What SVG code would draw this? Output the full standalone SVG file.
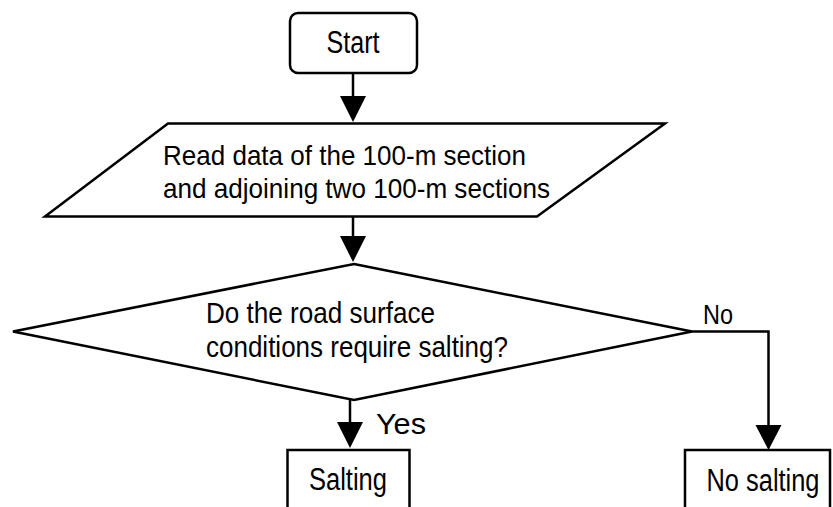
<svg xmlns="http://www.w3.org/2000/svg" width="833" height="507" viewBox="0 0 833 507">
<style>
.s{fill:#fff;stroke:#000;stroke-width:2.5;stroke-linejoin:miter}
.c{fill:none;stroke:#000;stroke-width:2.5}
.t{font-family:"Liberation Sans Narrow","Liberation Sans",Arial,sans-serif;fill:#000}
.h{fill:#000;stroke:none}
</style>
<rect width="833" height="507" fill="#fff"/>
<g id="connectors">
<line class="c" x1="353" y1="73" x2="353" y2="98"/>
<polygon class="h" points="340,96 366,96 353,122"/>
<line class="c" x1="353" y1="217" x2="353" y2="238"/>
<polygon class="h" points="340,236 366,236 353,262"/>
<line class="c" x1="350" y1="400" x2="350" y2="424"/>
<polygon class="h" points="337,422 363,422 350,448"/>
<polyline class="c" points="692,331.5 768.5,331.5 768.5,427"/>
<polygon class="h" points="755.5,425 781.5,425 768.5,450"/>
<text class="t" x="376" y="434" font-size="30" textLength="50" lengthAdjust="spacingAndGlyphs">Yes</text>
<text class="t" x="703" y="324" font-size="27" textLength="30" lengthAdjust="spacingAndGlyphs">No</text>
</g>
<g id="start">
<rect class="s" x="290" y="13" width="127" height="60" rx="8"/>
<text class="t" x="353" y="53" font-size="31" text-anchor="middle" textLength="53" lengthAdjust="spacingAndGlyphs">Start</text>
</g>
<g id="read">
<polygon class="s" points="168,123.5 665,123.5 537,216.5 45,216.5"/>
<text class="t" x="163" y="165" font-size="28" textLength="363" lengthAdjust="spacingAndGlyphs">Read data of the 100-m section</text>
<text class="t" x="163" y="198" font-size="28" textLength="387" lengthAdjust="spacingAndGlyphs">and adjoining two 100-m sections</text>
</g>
<g id="decision">
<polygon class="s" points="354,264 692,331.5 354,400 13,331.5"/>
<text class="t" x="206" y="323" font-size="29" textLength="229" lengthAdjust="spacingAndGlyphs">Do the road surface</text>
<text class="t" x="206" y="357" font-size="29" textLength="302" lengthAdjust="spacingAndGlyphs">conditions require salting?</text>
</g>
<g id="salting">
<rect class="s" x="287.5" y="450" width="122" height="80"/>
<text class="t" x="348" y="490" font-size="31" text-anchor="middle" textLength="78" lengthAdjust="spacingAndGlyphs">Salting</text>
</g>
<g id="nosalting">
<rect class="s" x="685" y="450" width="145" height="80"/>
<text class="t" x="763" y="491" font-size="31" text-anchor="middle" textLength="113" lengthAdjust="spacingAndGlyphs">No salting</text>
</g>
</svg>
